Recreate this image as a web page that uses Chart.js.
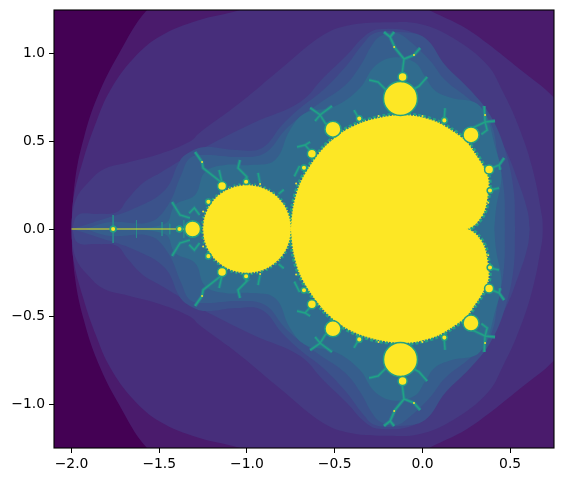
<!DOCTYPE html>
<html><head><meta charset="utf-8">
<style>html,body{margin:0;padding:0;background:#fff}canvas{display:block}</style>
<script src="https://cdn.jsdelivr.net/npm/chart.js@4/dist/chart.umd.min.js"></script>
</head><body><canvas id="c" width="563" height="482"></canvas>
<script>
// Values, in data units (upper half; the set is symmetric about y=0).
const xTicks=[-2,-1.5,-1,-0.5,0,0.5];
const yTicks=[-1,-0.5,0,0.5,1];
const band1X=[-2,-1.98,-1.93,-1.85,-1.73,-1.57,-1.2,-0.5,1.0,1.0];
const band1Y=[0,0.28,0.52,0.76,1.0,1.25,1.6,1.9,1.6,0];
const band2X=[-2,-1.99,-1.935,-1.86,-1.78,-1.65,-1.495,-1.28,-1.04,-0.7,-0.4,-0.15,0.038,0.10,0.24,0.369,0.557,0.75,0.95,1.05,1.07];
const band2Y=[0,0.17,0.39,0.61,0.79,0.97,1.10,1.19,1.25,1.37,1.42,1.38,1.25,1.22,1.15,1.06,0.91,0.75,0.5,0.2,0];
const band3X=[-2,-1.997,-1.97,-1.91,-1.82,-1.68,-1.495,-1.325,-1.27,-1.04,-0.80,-0.566,-0.41,-0.19,-0.013,0.175,0.37,0.46,0.545,0.625,0.682,0.686];
const band3Y=[0,0.07,0.18,0.26,0.34,0.38,0.43,0.50,0.55,0.72,0.92,1.107,1.164,1.18,1.17,1.09,0.936,0.78,0.594,0.354,0.07,0];
const band4X=[-1.997,-1.963,-1.855,-1.741,-1.684,-1.593,-1.496,-1.325,-1.194,-0.965,-0.697,-0.566,-0.43,-0.33,-0.25,-0.05,0.03,0.129,0.24,0.36,0.46,0.55,0.60,0.612];
const band4Y=[0,0.08,0.086,0.097,0.166,0.263,0.32,0.422,0.491,0.605,0.725,0.862,0.993,1.1,1.14,1.12,1.03,0.865,0.765,0.62,0.48,0.26,0.1,0];
const band5X=[-1.997,-1.84,-1.638,-1.467,-1.382,-1.325,-1.239,-1.057,-0.914,-0.8,-0.697,-0.566,-0.43,-0.344,-0.27,-0.127,0.015,0.129,0.272,0.386,0.471,0.52,0.528];
const band5Y=[0,0.05,0.12,0.223,0.39,0.439,0.468,0.451,0.462,0.593,0.69,0.793,0.936,1.05,1.119,1.124,1.09,0.936,0.793,0.65,0.451,0.223,0];
const band6X=[-1.923,-1.781,-1.553,-1.45,-1.375,-1.325,-1.239,-1.04,-0.897,-0.783,-0.697,-0.583,-0.441,-0.355,-0.287,-0.241,-0.15,-0.07,0.044,0.129,0.272,0.386,0.43,0.465,0.47];
const band6Y=[0,0.04,0.04,0.137,0.308,0.405,0.422,0.411,0.434,0.565,0.639,0.72,0.82,0.93,1.05,1.10,1.12,1.07,0.96,0.85,0.736,0.611,0.42,0.22,0];
const band7X=[-1.75,-1.467,-1.41,-1.296,-1.239,-1.125,-0.983,-0.84,-0.755,-0.669,-0.5,-0.36,-0.27,-0.156,-0.042,0.015,0.072,0.158,0.329,0.42,0.45,0.42,0.41];
const band7Y=[0,0.03,0.137,0.194,0.325,0.365,0.365,0.394,0.565,0.66,0.70,0.80,0.93,0.98,0.95,0.87,0.79,0.75,0.70,0.45,0.30,0.12,0];
const bulbX=[-0.75,-0.759,-0.783,-0.823,-0.875,-0.935,-1.0,-1.065,-1.125,-1.177,-1.2165,-1.2415,-1.25];
const bulbY=[0,0.065,0.125,0.177,0.2165,0.2415,0.25,0.2415,0.2165,0.177,0.125,0.065,0];
const setX=[0.25,0.2665,0.308,0.354,0.375,0.375,0.346,0.30,0.25,0.17,0.0875,-0.02,-0.125,-0.24,-0.354,-0.46,-0.558,-0.64,-0.6995,-0.735,-0.75];
const setY=[0,0.004,0.0335,0.104,0.2165,0.29,0.358,0.43,0.5,0.56,0.608,0.64,0.65,0.635,0.604,0.55,0.4665,0.36,0.254,0.13,0];
// Dots of the small bulbs on the real axis and the upper half.
const hugeX=[-0.125]; const hugeY=[0.745];
const bigX=[-1.31,-0.51,0.277]; const bigY=[0,0.57,0.537];
const midX=[-1.142,0.38,-0.63,-0.113]; const midY=[0.245,0.34,0.43,0.868];
const smallX=[-1.385,-1.763,-1.005,-0.36,0.125,0.385,-0.675,-1.22]; const smallY=[0,0,0.27,0.63,0.62,0.22,0.35,0.155];
const tinyX=[-0.925,-1.25,0.375,-0.72,-0.25,0.0,-0.161,-0.048,0.357,-1.256]; const tinyY=[0.257,0.1,0.15,0.26,0.645,0.645,1.039,0.993,0.651,0.382];
// Filaments (null separates the branches).
const filX=[-0.116,-0.105,-0.156,-0.184,-0.219,null,-0.184,-0.161,null,-0.105,-0.048,-0.013,null,
 -0.304,-0.253,-0.207,null,0.027,-0.019,-0.06,null,
 -0.64,-0.583,-0.515,null,-0.612,-0.583,-0.555,-0.509,null,
 0.352,0.357,0.369,0.336,null,0.414,0.357,0.283,null,
 0.466,0.437,0.38,null,0.443,0.437,null,0.437,0.386,null,
 -0.715,-0.669,-0.64,null,-0.669,-0.629,null,-0.39,-0.361,null,0.129,0.123,null,
 -1.296,-1.256,-1.25,-1.199,-1.142,null,-1.04,-1.051,-1,-1.005,null,-0.937,-0.926,null,-1.159,-1.142,null,
 -1.427,-1.382,-1.325,null,-1.27,-1.3,-1.33,null,-0.82,-0.79,null,-0.73,-0.70,null];
const filY=[0.885,0.97,1.033,1.096,1.124,null,1.096,1.124,null,0.97,0.993,1.033,null,
 0.85,0.839,0.793,null,0.868,0.816,0.793,null,
 0.691,0.651,0.702,null,0.616,0.651,0.605,0.571,null,
 0.702,0.611,0.565,0.54,null,0.616,0.611,0.576,null,
 0.405,0.365,0.342,null,0.337,0.365,null,0.234,0.223,null,
 0.468,0.479,0.497,null,0.479,0.434,null,0.679,0.628,null,0.69,0.616,null,
 0.439,0.382,0.348,0.308,0.263,null,0.394,0.348,0.297,0.268,null,0.32,0.263,null,0.337,0.263,null,
 0.154,0.08,0.063,null,0.08,0.12,0.09,null,0.2,0.225,null,0.3,0.36,null];
const spikeX=[-1.763,-1.763,null,-1.63,-1.63,null,-1.484,-1.484,null,-1.44,-1.44,null,-1.36,-1.36];
const spikeY=[0.08,-0.08,null,0.05,-0.05,null,0.04,-0.04,null,0.03,-0.03,null,0.05,-0.05];
const axisLineX=[-2,-1.36]; const axisLineY=[0,0];

const pts=(X,Y)=>X.map((x,i)=>({x:x,y:Y[i]}));
const closed=(X,Y)=>{const up=pts(X,Y);const low=up.slice().reverse().map(p=>({x:p.x,y:-p.y}));return up.concat(low);};
const both=(X,Y)=>{const up=pts(X,Y);const low=up.map(p=>({x:p.x,y:p.y===null?null:-p.y}));return up.concat([{x:null,y:null}],low);};
const poly=(X,Y,color,t)=>({type:'scatter',data:closed(X,Y),showLine:true,fill:'shape',backgroundColor:color,borderColor:color,borderWidth:0,pointRadius:0,tension:t===undefined?0.4:t});
const dots=(X,Y,r,color,edge)=>({type:'scatter',data:both(X,Y),showLine:false,pointRadius:r,pointHoverRadius:r,backgroundColor:color,borderColor:edge||color,pointBorderWidth:edge?1.5:0});
const edge=(X,Y,color,w,dash)=>({type:'scatter',data:closed(X,Y),showLine:true,fill:false,borderColor:color,borderWidth:w,borderDash:dash,pointRadius:0,tension:0.3});
const strands=(X,Y,color,w)=>({type:'scatter',data:both(X,Y),showLine:true,spanGaps:false,fill:false,borderColor:color,borderWidth:w,pointRadius:0});

const layers=[
 poly(band1X,band1Y,'#4a1b6c'),
 poly(band2X,band2Y,'#472e7b'),
 poly(band3X,band3Y,'#453a82'),
 poly(band4X,band4Y,'#404688'),
 poly(band5X,band5Y,'#3b528b'),
 poly(band6X,band6Y,'#365e8d'),
 poly(band7X,band7Y,'#306c8e'),
 {type:'scatter',data:pts(spikeX,spikeY),showLine:true,spanGaps:false,borderColor:'#2a8a8c',borderWidth:1,pointRadius:0},
 strands(filX,filY,'#2a7d8e',3.5),
 strands(filX,filY,'#20a386',1.5),
 {type:'scatter',data:pts(axisLineX,axisLineY),showLine:true,borderColor:'#e4e419',borderWidth:1,pointRadius:0},
 edge(setX,setY,'#23a083',6,[3,2]),
 edge(bulbX,bulbY,'#23a083',5,[2,3]),
 poly(setX,setY,'#fde725',0.3),
 poly(bulbX,bulbY,'#fde725',0.3),
 edge(setX,setY,'#fde725',2,[1,2]),
 edge(bulbX,bulbY,'#fde725',2,[1,2]),
 dots(hugeX,hugeY,17,'#fde725','#23a083'),
 dots(bigX,bigY,8,'#fde725','#23a083'),
 dots(midX,midY,4.5,'#fde725','#23a083'),
 dots(smallX,smallY,2.8,'#fde725','#23a083'),
 dots(tinyX,tinyY,1,'#f0e030')
];
layers.forEach((d,i)=>{d.order=layers.length-i;});

const fmt=v=>(v<0?'\u2212':'')+Math.abs(v).toFixed(1);
const frame={id:'frame',afterDraw(ch){const a=ch.chartArea,g=ch.ctx;g.save();g.strokeStyle='#000';g.lineWidth=1.1;g.strokeRect(a.left,a.top,a.right-a.left,a.bottom-a.top);g.restore();}};
const pin={id:'pin',afterLayout(ch){
  const L=54,T=10,R=554,B=448,a=ch.chartArea,x=ch.scales.x,y=ch.scales.y;
  a.left=L;a.top=T;a.right=R;a.bottom=B;a.width=R-L;a.height=B-T;
  x.left=L;x.right=R;x.width=R-L;x.top=B;x.bottom=482;x.height=34;
  y.left=0;y.right=L;y.width=L;y.top=T;y.bottom=B;y.height=B-T;
  x.paddingLeft=x.paddingRight=0;y.paddingTop=y.paddingBottom=0;
  x._margins=y._margins=null;
  x.configure();y.configure();
}};
new Chart(document.getElementById('c'),{
 data:{datasets:layers},
 plugins:[pin,{id:'bg',beforeDraw(ch){const g=ch.ctx,a=ch.chartArea;g.save();g.fillStyle='#fff';g.fillRect(0,0,ch.width,ch.height);g.fillStyle='#440154';g.fillRect(a.left,a.top,a.right-a.left,a.bottom-a.top);g.restore();}},frame],
 options:{responsive:false,animation:false,events:[],
  plugins:{legend:{display:false},tooltip:{enabled:false}},
  scales:{
   x:{type:'linear',min:-2.1,max:0.75,
    afterBuildTicks(s){s.ticks=xTicks.map(v=>({value:v}));},
    grid:{drawOnChartArea:false,drawTicks:true,tickLength:5,tickColor:'#000',tickWidth:1},
    border:{display:false},
    ticks:{callback:fmt,color:'#000',font:{family:'DejaVu Sans',size:13.9},padding:3,maxRotation:0,autoSkip:false}},
   y:{type:'linear',min:-1.25,max:1.25,
    afterBuildTicks(s){s.ticks=yTicks.map(v=>({value:v}));},
    grid:{drawOnChartArea:false,drawTicks:true,tickLength:5,tickColor:'#000',tickWidth:1},
    border:{display:false},
    ticks:{callback:fmt,color:'#000',font:{family:'DejaVu Sans',size:13.9},padding:4,autoSkip:false}}
  }}
});
</script></body></html>
